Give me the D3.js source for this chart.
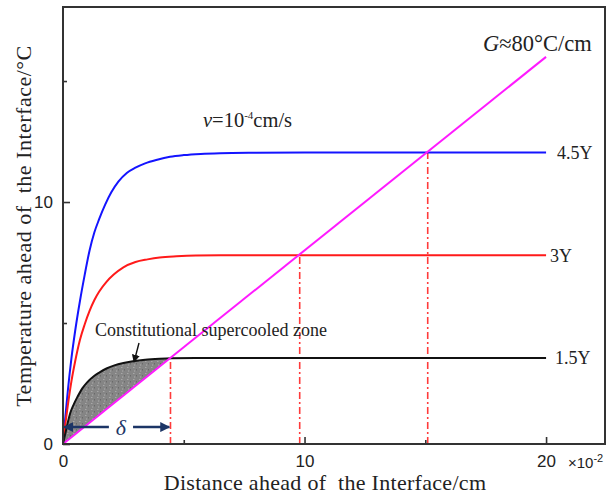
<!DOCTYPE html>
<html><head><meta charset="utf-8">
<script src="https://cdn.jsdelivr.net/npm/d3@7"></script>
<style>body{margin:0;background:#fff}svg{display:block}text{white-space:pre}</style>
</head><body><svg id="c" width="607" height="497"></svg>
<script>
// ---- data ----
const seriesNames = ["4.5Y", "3Y", "1.5Y"];
const x45 = [0,0.1,0.2,0.35,0.5,0.7,0.9,1.1,1.3,1.5,1.75,2.0,2.3,2.64,3.0,3.4,3.9,4.43,5.0,5.7,6.5,8,10,20];
const y45 = [0,1.15,2.2,3.55,4.65,5.9,7.0,8.0,8.75,9.3,9.9,10.4,10.85,11.2,11.42,11.6,11.75,11.87,11.94,11.99,12.02,12.04,12.05,12.05];
const x3  = [0,0.1,0.2,0.35,0.5,0.7,0.9,1.1,1.3,1.5,1.8,2.1,2.5,3.0,3.5,4.0,4.7,5.5,7,10,20];
const y3  = [0,0.85,1.6,2.6,3.4,4.3,4.95,5.5,5.95,6.3,6.7,7.0,7.3,7.52,7.63,7.71,7.76,7.79,7.8,7.8,7.8];
const x15 = [0,0.1,0.2,0.3,0.45,0.6,0.8,1.0,1.25,1.5,1.8,2.1,2.5,2.9,3.4,4.0,4.5,5.5,8,20];
const y15 = [0,0.45,0.9,1.28,1.65,1.95,2.3,2.55,2.78,2.95,3.12,3.24,3.35,3.42,3.48,3.52,3.54,3.55,3.55,3.55];
const gradX = [0, 20];
const gradY = [0, 16];
const dropX = [4.45, 9.8, 15.1];
const dropY = [3.55, 7.8, 12.05];
const xMajor = [0, 10, 20];
const xMinor = [5, 15];
const yMajor = [0, 10];
const yMinor = [5, 15];
const deltaEnd = 4.4;

// ---- scales ----
const svg = d3.select("#c");
const x = d3.scaleLinear().domain([0, 22.44]).range([63, 605]);
const y = d3.scaleLinear().domain([0, 18.06]).range([444, 7]);
const serif = "'Liberation Serif','Times New Roman',serif";
const sans = "'Liberation Sans',Arial,sans-serif";

const defs = svg.append("defs");
const pat = defs.append("pattern").attr("id","spk").attr("width",6).attr("height",6).attr("patternUnits","userSpaceOnUse");
pat.append("rect").attr("width",6).attr("height",6).attr("fill","#858585");
pat.append("rect").attr("x",1).attr("y",1).attr("width",1.5).attr("height",1).attr("fill","#a8a8a8");
pat.append("rect").attr("x",4).attr("y",3).attr("width",1).attr("height",1.5).attr("fill","#6a6a6a");
pat.append("rect").attr("x",2).attr("y",4.5).attr("width",1.2).attr("height",1).attr("fill","#b0b0b0");
function marker(id, color, size){
  defs.append("marker").attr("id", id).attr("viewBox","0 0 10 10").attr("refX",9).attr("refY",5)
    .attr("markerWidth",size).attr("markerHeight",size).attr("orient","auto-start-reverse")
    .attr("markerUnits","userSpaceOnUse")
    .append("path").attr("d","M0,0 L10,5 L0,10 z").attr("fill",color);
}
marker("navy","#1c3566",10);
marker("blk","#111",8);

const line = d3.line().x(d=>x(d[0])).y(d=>y(d[1])).curve(d3.curveMonotoneX);
const zip = (a,b)=>a.map((v,i)=>[v,b[i]]);

// shaded zone
const zoneTop = zip(x15,y15).filter(d=>d[0] < dropX[0]);
zoneTop.push([dropX[0], dropY[0]]);
svg.append("path")
  .attr("d", line(zoneTop) + "L" + x(0) + "," + y(0) + "Z")
  .attr("fill","url(#spk)");

// drop lines
svg.selectAll(".drop").data(dropX).join("line")
  .attr("x1", d=>x(d)).attr("x2", d=>x(d))
  .attr("y1", y(0)).attr("y2", (d,i)=>y(dropY[i]))
  .attr("stroke","#ff3b3b").attr("stroke-width",1.6).attr("stroke-dasharray","7,3,2,3");

// curves
const cols = ["#1414ff", "#ff1a1a", "#111111"];
[[x45,y45],[x3,y3],[x15,y15]].forEach((s,i)=>{
  svg.append("path").attr("d", line(zip(s[0],s[1]))).attr("fill","none")
    .attr("stroke", cols[i]).attr("stroke-width", 2);
});
// G line
svg.append("line").attr("x1",x(gradX[0])).attr("y1",y(gradY[0])).attr("x2",x(gradX[1])).attr("y2",y(gradY[1]))
  .attr("stroke","#ff1aff").attr("stroke-width",2);

// axes with inward ticks
const gx = svg.append("g").attr("transform",`translate(0,${y(0)})`)
  .call(d3.axisBottom(x).tickValues(xMajor).tickSize(-7).tickPadding(11).tickFormat(d3.format("d")));
const gxm = svg.append("g").attr("transform",`translate(0,${y(0)})`)
  .call(d3.axisBottom(x).tickValues(xMinor).tickSize(-4).tickFormat(""));
const gy = svg.append("g").attr("transform",`translate(${x(0)},0)`)
  .call(d3.axisLeft(y).tickValues(yMajor).tickSize(-7).tickPadding(10).tickFormat(d3.format("d")));
const gym = svg.append("g").attr("transform",`translate(${x(0)},0)`)
  .call(d3.axisLeft(y).tickValues(yMinor).tickSize(-4).tickFormat(""));
[gx,gxm,gy,gym].forEach(g=>{
  g.select(".domain").remove();
  g.selectAll("line").attr("stroke","#333").attr("stroke-width",1.6);
  g.selectAll("text").attr("font-family",sans).attr("font-size",17).attr("fill","#222");
});
// frame
svg.append("rect").attr("x",x(0)).attr("y",y(18.06)).attr("width",x(22.44)-x(0)).attr("height",y(0)-y(18.06))
  .attr("fill","none").attr("stroke","#333").attr("stroke-width",2);

// x10^-2
const ex = svg.append("text").attr("x",568).attr("y",468).attr("font-family",sans).attr("font-size",15).attr("fill","#222");
ex.append("tspan").text("×10");
ex.append("tspan").attr("dy",-6).attr("font-size",11).text("-2");

// series labels
const labX = [557, 550, 555];
seriesNames.forEach((n,i)=>{
  svg.append("text").attr("x",labX[i]).attr("y",y(dropY[2-i])).attr("dy","0.35em")
    .attr("font-family",serif).attr("font-size",18).attr("fill","#222").text(n);
});

// G label
const gt = svg.append("text").attr("x",483).attr("y",51).attr("font-family",serif).attr("font-size",22.5).attr("fill","#222");
gt.append("tspan").attr("font-style","italic").text("G");
gt.append("tspan").text("≈80°C/cm");
// v label
const vt = svg.append("text").attr("x",203).attr("y",127).attr("font-family",serif).attr("font-size",20.5).attr("fill","#222");
vt.append("tspan").attr("font-style","italic").text("v");
vt.append("tspan").text("=10");
vt.append("tspan").attr("dy",-8).attr("font-size",11).text("-4");
vt.append("tspan").attr("dy",8).text("cm/s");

// annotation
svg.append("text").attr("x",95).attr("y",336).attr("font-family",serif).attr("font-size",18).attr("fill","#222")
  .text("Constitutional supercooled zone");
svg.append("line").attr("x1",139).attr("y1",343).attr("x2",134).attr("y2",362)
  .attr("stroke","#111").attr("stroke-width",1.4).attr("marker-end","url(#blk)");

// delta arrow
const dY = y(0.7);
svg.append("line").attr("x1",x(1.9)).attr("y1",dY).attr("x2",x(0.05)).attr("y2",dY)
  .attr("stroke","#1c3566").attr("stroke-width",2.5).attr("marker-end","url(#navy)");
svg.append("line").attr("x1",x(2.9)).attr("y1",dY).attr("x2",x(deltaEnd)).attr("y2",dY)
  .attr("stroke","#1c3566").attr("stroke-width",2.5).attr("marker-end","url(#navy)");
svg.append("text").attr("x",x(2.4)).attr("y",dY).attr("dy","0.35em").attr("text-anchor","middle")
  .attr("font-family",serif).attr("font-style","italic").attr("font-size",22).attr("fill","#1c3566").text("δ");

// axis titles
svg.append("text").attr("x",325).attr("y",490).attr("text-anchor","middle").attr("font-family",serif)
  .attr("font-size",22).attr("letter-spacing",0.3).attr("fill","#222").text("Distance ahead of  the Interface/cm");
svg.append("text").attr("transform","translate(31,226) rotate(-90)").attr("text-anchor","middle").attr("font-family",serif)
  .attr("font-size",22).attr("letter-spacing",0.5).attr("fill","#222").text("Temperature ahead of  the Interface/°C");
</script></body></html>
